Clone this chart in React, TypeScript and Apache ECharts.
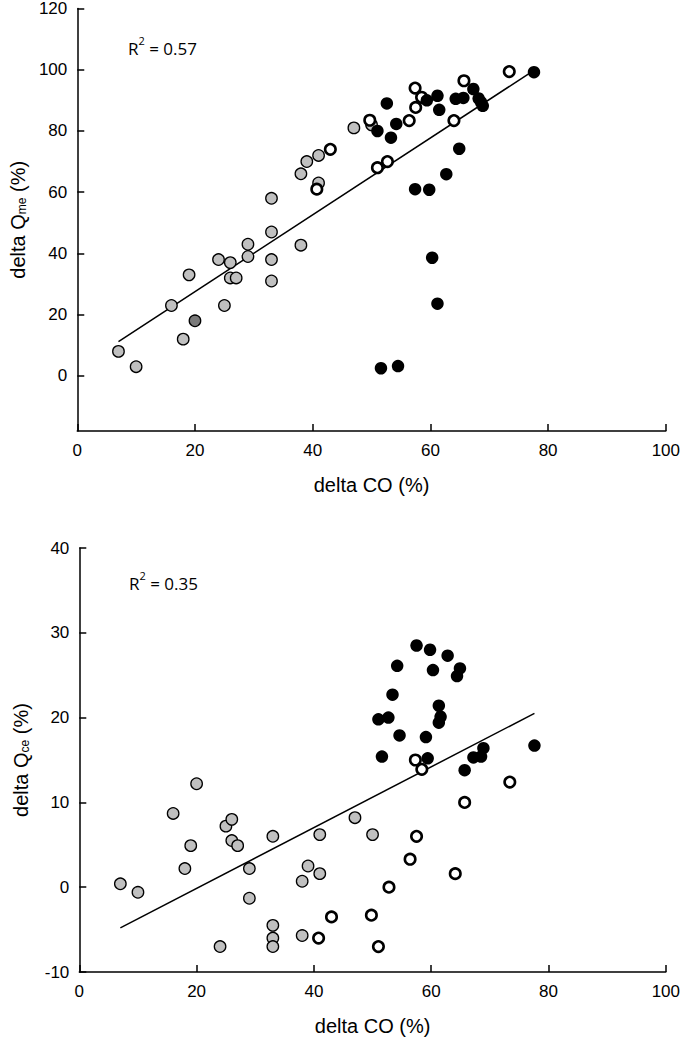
import React, { useEffect, useRef } from "react";
import * as echarts from "echarts";

// ---- data (delta CO %, delta Q %) ----
const xTicks = [0, 20, 40, 60, 80, 100];
const topYTicks = [0, 20, 40, 60, 80, 100, 120];
const bottomYTicks = [-10, 0, 10, 20, 30, 40];

const topGrey: number[][] = [
  [7, 8], [10, 3], [16, 23], [19, 33], [18, 12], [24, 38], [25, 23], [26, 37],
  [26, 32], [27, 32], [29, 43], [29, 39], [33, 58], [33, 47], [33, 38], [33, 31],
  [38, 42.7], [38, 66], [39, 70], [41, 72], [41, 63], [47, 81], [50, 82],
];
const topDark: number[][] = [[20, 18]];
const topOpen: number[][] = [
  [40.7, 61], [43, 74], [49.7, 83.5], [51, 68], [52.7, 70], [56.4, 83.4],
  [57.4, 94], [58.5, 91], [57.5, 87.7], [64, 83.4], [65.7, 96.4], [73.4, 99.4],
];
const topBlack: number[][] = [
  [52.6, 89], [51, 80], [54.2, 82.3], [53.3, 77.8], [59.4, 90], [61.2, 91.5],
  [61.5, 86.9], [64.3, 90.5], [65.6, 90.8], [67.3, 93.7], [68.2, 90.6], [68.6, 89.4],
  [68.9, 88.2], [77.6, 99.2], [64.9, 74.2], [62.7, 65.9], [57.4, 61], [59.8, 60.8],
  [60.3, 38.6], [61.2, 23.6], [51.6, 2.5], [54.5, 3.2],
];
const topFit: number[][] = [[7, 11.2], [77.6, 99.8]];

const bottomGrey: number[][] = [
  [7, 0.4], [10, -0.6], [16, 8.7], [20, 12.2], [18, 2.2], [19, 4.9], [25, 7.2],
  [26, 8], [26, 5.5], [27, 4.9], [29, 2.2], [29, -1.3], [33, 6], [33, -4.5],
  [33, -6], [33, -7], [38, 0.7], [38, -5.7], [39, 2.5], [24, -7], [41, 1.6],
  [41, 6.2], [47, 8.2], [50, 6.2],
];
const bottomOpen: number[][] = [
  [57.3, 15], [58.4, 13.9], [65.7, 10], [73.4, 12.4], [57.5, 6], [56.4, 3.3],
  [64.1, 1.6], [52.8, 0], [43, -3.5], [49.8, -3.3], [40.8, -6], [51, -7],
];
const bottomBlack: number[][] = [
  [57.5, 28.5], [59.8, 28], [62.8, 27.3], [54.2, 26.1], [60.3, 25.6], [64.9, 25.8],
  [64.4, 24.9], [53.4, 22.7], [61.3, 21.4], [61.6, 20.1], [61.3, 19.4], [51, 19.8],
  [52.7, 20], [54.6, 17.9], [59.1, 17.7], [51.6, 15.4], [59.4, 15.2], [65.7, 13.8],
  [67.2, 15.3], [68.5, 15.4], [68.9, 16.4], [77.6, 16.7],
];
const bottomFit: number[][] = [[7, -4.8], [77.6, 20.5]];

const r2Top = "0.57";
const r2Bottom = "0.35";

const AX_FONT = "'Liberation Sans', Arial, Helvetica, sans-serif";
const R_FONT = "'Open Sans', 'Noto Sans', sans-serif";

function xAxisCfg(gridIndex: number) {
  return {
    type: "value",
    gridIndex,
    min: 0,
    max: 100,
    interval: 20,
    name: "delta CO (%)",
    nameLocation: "middle",
    nameGap: 44,
    nameTextStyle: { fontFamily: AX_FONT, fontSize: 20, color: "#000" },
    axisLine: { show: true, onZero: false, lineStyle: { color: "#000", width: 1.5 } },
    axisTick: { show: true, inside: true, length: 7, customValues: xTicks, lineStyle: { color: "#000", width: 1.5 } },
    axisLabel: { fontFamily: AX_FONT, fontSize: 17, color: "#000", margin: 11, customValues: xTicks },
    splitLine: { show: false },
  };
}

function yAxisCfg(gridIndex: number, min: number, max: number, ticks: number[], sub: string) {
  return {
    type: "value",
    gridIndex,
    min,
    max,
    name: `{a|delta Q}{s|${sub}}{a| (%)}`,
    nameLocation: "middle",
    nameRotate: 90,
    nameGap: 48,
    nameTextStyle: {
      rich: {
        a: { fontFamily: AX_FONT, fontSize: 20, color: "#000", lineHeight: 22, verticalAlign: "bottom" },
        s: { fontFamily: AX_FONT, fontSize: 12, color: "#000", lineHeight: 5, verticalAlign: "bottom" },
      },
    },
    axisLine: { show: true, onZero: false, lineStyle: { color: "#000", width: 1.5 } },
    axisTick: { show: true, inside: true, length: 7, customValues: ticks, lineStyle: { color: "#000", width: 1.5 } },
    axisLabel: { fontFamily: AX_FONT, fontSize: 17, color: "#000", margin: 10, customValues: ticks },
    splitLine: { show: false },
  };
}

function scatter(data: number[][], idx: number, kind: "grey" | "dark" | "open" | "black") {
  const style: any =
    kind === "grey"
      ? { color: "#c0c0c0", borderColor: "#000", borderWidth: 1.3 }
      : kind === "dark"
      ? { color: "#7a7a7a", borderColor: "#000", borderWidth: 1.3 }
      : kind === "open"
      ? { color: "#fff", borderColor: "#000", borderWidth: 2.6 }
      : { color: "#000", borderColor: "#000", borderWidth: 0 };
  style.opacity = 1;
  return {
    type: "scatter",
    xAxisIndex: idx,
    yAxisIndex: idx,
    data,
    symbol: "circle",
    symbolSize: kind === "open" ? 10.5 : kind === "black" ? 12.5 : 11.5,
    itemStyle: style,
    z: 3,
    silent: true,
  };
}

function fitLine(data: number[][], idx: number) {
  return {
    type: "line",
    xAxisIndex: idx,
    yAxisIndex: idx,
    data,
    symbol: "none",
    lineStyle: { color: "#000", width: 1.5 },
    z: 2,
    silent: true,
  };
}

function r2Text(left: number, top: number, val: string) {
  return {
    type: "text",
    left,
    top,
    style: {
      text: `{a|R}{s|2}{a| = ${val}}`,
      rich: {
        a: { fontFamily: R_FONT, fontSize: 17, fill: "#000", lineHeight: 22, verticalAlign: "bottom" },
        s: { fontFamily: R_FONT, fontSize: 11, fill: "#000", lineHeight: 14, verticalAlign: "top" },
      },
    },
  };
}

export default function App() {
  const ref = useRef<HTMLDivElement>(null);
  useEffect(() => {
    if (!ref.current) return;
    const chart = echarts.init(ref.current, undefined, { renderer: "svg" });
    chart.setOption({
      animation: false,
      backgroundColor: "#fff",
      grid: [
        { left: 76.5, top: 6.7, width: 589.5, height: 424.3 },
        { left: 79.3, top: 548, width: 589.7, height: 425 },
      ],
      xAxis: [xAxisCfg(0), xAxisCfg(1)],
      yAxis: [
        yAxisCfg(0, -18, 120, topYTicks, "me"),
        yAxisCfg(1, -10, 40, bottomYTicks, "ce"),
      ],
      graphic: [r2Text(128, 35, r2Top), r2Text(129, 570, r2Bottom)],
      series: [
        fitLine(topFit, 0),
        scatter(topGrey, 0, "grey"),
        scatter(topDark, 0, "dark"),
        scatter(topOpen, 0, "open"),
        scatter(topBlack, 0, "black"),
        fitLine(bottomFit, 1),
        scatter(bottomGrey, 1, "grey"),
        scatter(bottomOpen, 1, "open"),
        scatter(bottomBlack, 1, "black"),
      ],
    });
    return () => chart.dispose();
  }, []);
  return (
    <div
      ref={ref}
      style={{ position: "fixed", left: 0, top: 0, width: 683, height: 1037, background: "#fff" }}
    />
  );
}
